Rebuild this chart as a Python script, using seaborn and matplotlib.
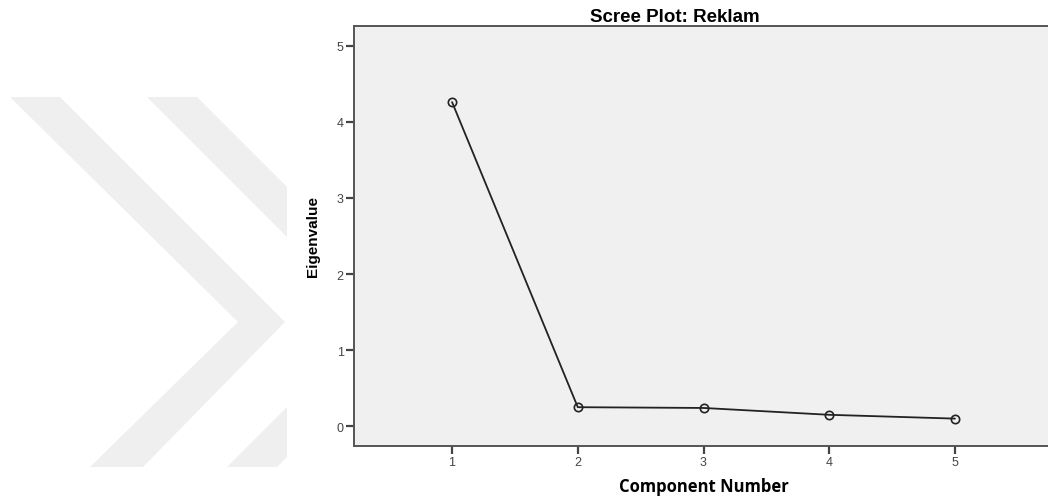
import pandas as pd
import seaborn as sns
import matplotlib.pyplot as plt
from matplotlib.patches import Polygon, Rectangle

# Scree plot data
components = [1, 2, 3, 4, 5]
eigenvalues = [4.26, 0.25, 0.24, 0.15, 0.10]
y_ticks = [0, 1, 2, 3, 4, 5]

df = pd.DataFrame({"Component Number": components, "Eigenvalue": eigenvalues})

sns.set_theme(style="ticks")
plt.rcParams['font.family'] = ['Liberation Sans', 'DejaVu Sans']

fig = plt.figure(figsize=(10.48, 5.02), dpi=100)
W, H = 1048, 502

# faint chevron watermark on the left (decoration only)
def px(pts):
    return [(x / W, 1 - y / H) for x, y in pts]

wm = "#efefef"
fig.patches.append(Polygon(px([(10, 98), (60, 98), (285, 323), (143, 468), (90, 468), (238, 323)]),
                           closed=True, transform=fig.transFigure, facecolor=wm, edgecolor="none", zorder=-3))
fig.patches.append(Polygon(px([(147, 98), (197, 98), (422, 323), (277, 468), (227, 468), (372, 323)]),
                           closed=True, transform=fig.transFigure, facecolor=wm, edgecolor="none", zorder=-3))
fig.patches.append(Rectangle((287 / W, 0), 1, 1, transform=fig.transFigure,
                             facecolor="white", edgecolor="none", zorder=-2))

ax = fig.add_axes([354 / W, 1 - 447 / H, (1053 - 354) / W, (447 - 27) / H])
ax.set_facecolor("#f0f0f0")

sns.lineplot(data=df, x="Component Number", y="Eigenvalue", ax=ax,
             color="#222222", linewidth=1.3, marker="o", markersize=6,
             markerfacecolor="none", markeredgecolor="#222222", markeredgewidth=1.2)

ax.set_xlim(0.22, 5.78)
ax.set_ylim(-0.26, 5.26)
ax.set_xticks(components)
ax.set_yticks(y_ticks)
ax.tick_params(direction="out", length=6, width=1.6, color="#444444",
               labelsize=9, labelcolor="#444444", pad=1.5)

for side in ["left", "bottom", "top", "right"]:
    ax.spines[side].set_visible(True)
    ax.spines[side].set_color("#555555")
    ax.spines[side].set_linewidth(1.4)

ax.set_xlabel("Component Number", fontsize=12, fontweight="bold", color="black",
              family=["Open Sans", "DejaVu Sans"], labelpad=6)
ax.set_ylabel("Eigenvalue", fontsize=11, fontweight="bold", color="black", labelpad=12)

fig.text(675 / W, 1 - 22 / H, "Scree Plot: Reklam", ha="center", va="baseline",
         fontsize=13.5, fontweight="bold", color="black")

fig.savefig("out.png", dpi=100)
plt.close()
